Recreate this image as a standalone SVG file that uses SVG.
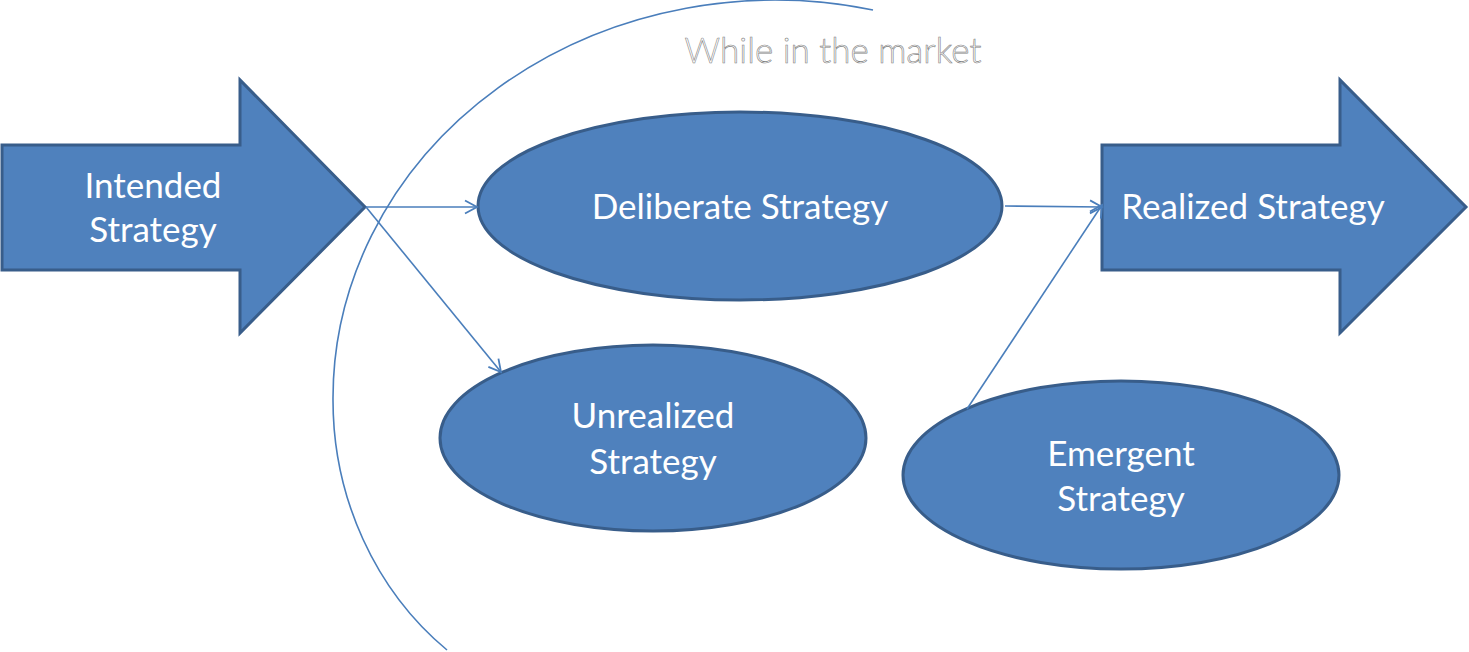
<svg xmlns="http://www.w3.org/2000/svg" width="1469" height="652" viewBox="0 0 1469 652">
  <style>
    .shape { fill: #4f81bd; stroke: #385d8a; stroke-width: 3; stroke-linejoin: miter; }
    .lbl { font-family: Lato, "Liberation Sans", sans-serif; font-size: 35px; fill: #ffffff; text-anchor: middle; }
    .conn { fill: none; stroke: #4a7ebb; stroke-width: 1.6; }
    .title { font-family: Lato, "Liberation Sans", sans-serif; font-size: 35px; font-weight: 300; fill: #ffffff; stroke: #7f7f7f; stroke-width: 0.6; text-anchor: middle; }
  </style>
  <defs>
    <marker id="open" markerUnits="userSpaceOnUse" markerWidth="16" markerHeight="16" viewBox="0 0 16 16" refX="14" refY="8" orient="auto">
      <path d="M2,1.5 L14,8 L2,14.5" fill="none" stroke="#4a7ebb" stroke-width="1.8"/>
    </marker>
  </defs>
  <rect width="1469" height="652" fill="#ffffff"/>

  <g id="market-arc">
    <path class="conn" d="M873,10 A442,398 0 0 0 333,400 A294,316 0 0 0 447,650"/>
  </g>

  <g id="while-in-market">
    <text class="title" x="833" y="63">While in the market</text>
  </g>

  <g id="intended">
    <polygon class="shape" points="2,145 240,145 240,80 365,207 240,333 240,270 2,270"/>
    <text class="lbl" x="153" y="198">Intended</text>
    <text class="lbl" x="153" y="242">Strategy</text>
  </g>

  <g id="realized">
    <polygon class="shape" points="1102,145 1340,145 1340,80 1466,207 1340,333 1340,270 1102,270"/>
    <text class="lbl" x="1253" y="219">Realized Strategy</text>
  </g>

  <g id="deliberate">
    <ellipse class="shape" cx="740" cy="206" rx="262" ry="94"/>
    <text class="lbl" x="740" y="219">Deliberate Strategy</text>
  </g>

  <g id="unrealized">
    <ellipse class="shape" cx="653" cy="438" rx="213" ry="93"/>
    <text class="lbl" x="653" y="428">Unrealized</text>
    <text class="lbl" x="653" y="474">Strategy</text>
  </g>

  <g id="emergent">
    <ellipse class="shape" cx="1121" cy="475" rx="218" ry="94"/>
    <text class="lbl" x="1121" y="466">Emergent</text>
    <text class="lbl" x="1121" y="511">Strategy</text>
  </g>

  <g id="connectors">
    <line class="conn" x1="366" y1="207" x2="477" y2="207" marker-end="url(#open)"/>
    <line class="conn" x1="366" y1="207" x2="501" y2="372" marker-end="url(#open)"/>
    <line class="conn" x1="1005" y1="206" x2="1102" y2="207" marker-end="url(#open)"/>
    <line class="conn" x1="967" y1="409" x2="1102" y2="205" marker-end="url(#open)"/>
  </g>
</svg>
